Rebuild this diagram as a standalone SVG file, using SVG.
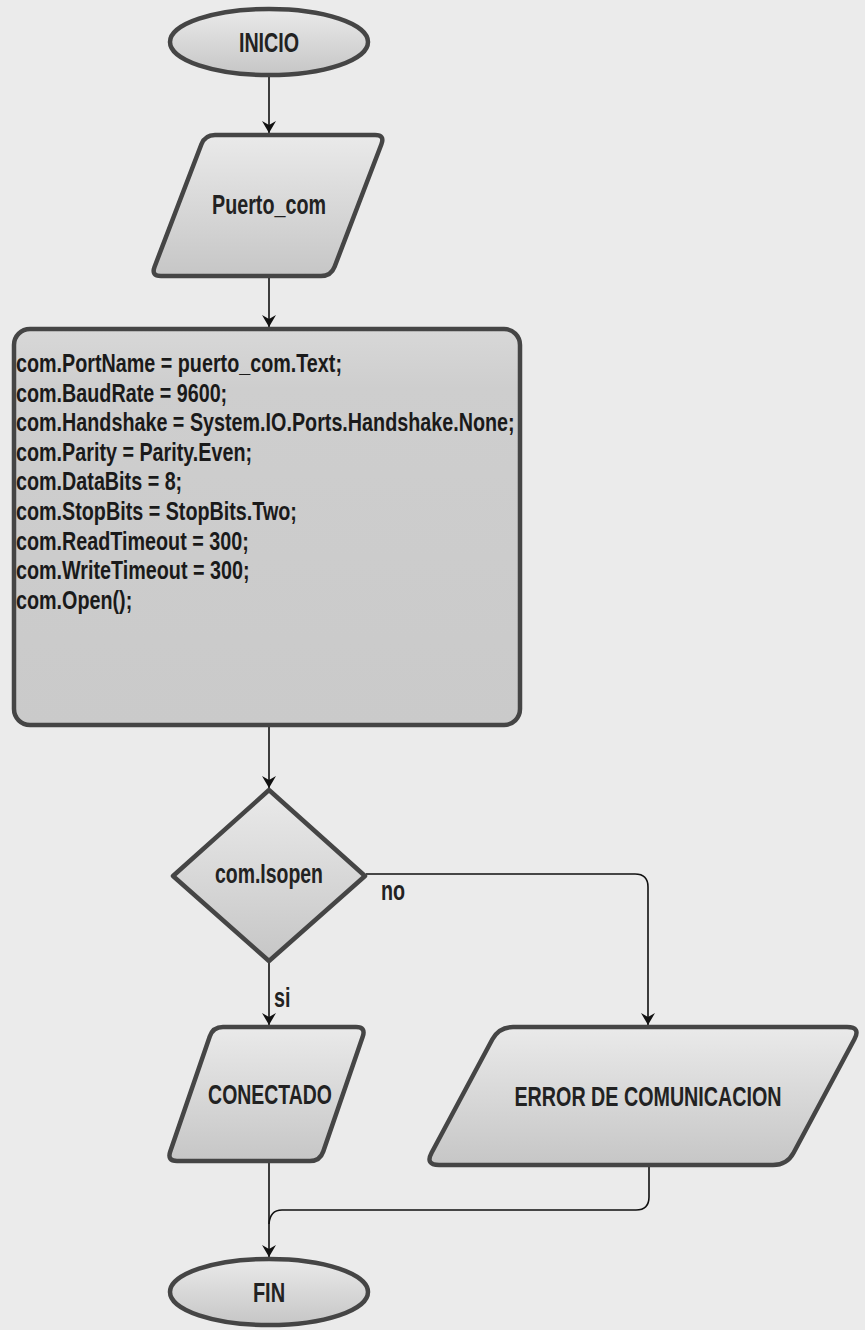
<svg xmlns="http://www.w3.org/2000/svg" width="865" height="1330" viewBox="0 0 865 1330">
  <defs>
    <linearGradient id="shade" x1="0" y1="0" x2="0" y2="1">
      <stop offset="0" stop-color="#eaeaea"/>
      <stop offset="1" stop-color="#c6c6c6"/>
    </linearGradient>
    <linearGradient id="shadeBox" x1="0" y1="0" x2="0" y2="1">
      <stop offset="0" stop-color="#d8d8d8"/>
      <stop offset="0.15" stop-color="#cecece"/>
      <stop offset="1" stop-color="#cacaca"/>
    </linearGradient>
    <marker id="arrow" viewBox="0 0 12 14" markerWidth="12" markerHeight="14" refX="12" refY="7" orient="auto" markerUnits="userSpaceOnUse">
      <path d="M0,0 L12,7 L0,14 L4,7 Z" fill="#111"/>
    </marker>
  </defs>
  <style>
    .node { fill: url(#shade); stroke: #454545; stroke-width: 4.5; stroke-linejoin: round; }
    .box { fill: url(#shadeBox); stroke: #454545; stroke-width: 4.5; }
    .edge { fill: none; stroke: #111; stroke-width: 1.6; }
    .lbl { font-family: "Liberation Sans", Arial, sans-serif; font-weight: bold; font-size: 27px; fill: #222; }
    .code { font-family: "Liberation Sans", Arial, sans-serif; font-weight: bold; font-size: 25px; fill: #1a1a1a; }
  </style>

  <rect x="0" y="0" width="865" height="1330" fill="#ebebeb"/>

  <!-- connectors -->
  <g id="connectors">
    <path class="edge" d="M269,77 L269,133" marker-end="url(#arrow)"/>
    <path class="edge" d="M269,277 L269,327" marker-end="url(#arrow)"/>
    <path class="edge" d="M269,727 L269,788" marker-end="url(#arrow)"/>
    <path class="edge" d="M269,962 L269,1025" marker-end="url(#arrow)"/>
    <path class="edge" d="M366,874 L635,874 Q648,874 648,887 L648,1025" marker-end="url(#arrow)"/>
    <path class="edge" d="M269,1162 L269,1257" marker-end="url(#arrow)"/>
    <path class="edge" d="M649,1167 L649,1197 Q649,1210 636,1210 L282,1210 Q270,1210 269,1224"/>
    <text class="lbl" transform="translate(381 900) scale(0.73 1)">no</text>
    <text class="lbl" transform="translate(274 1007) scale(0.73 1)">si</text>
  </g>

  <!-- start terminal -->
  <g id="inicio">
    <ellipse class="node" cx="269" cy="42" rx="99" ry="33"/>
    <text class="lbl" text-anchor="middle" transform="translate(269 52) scale(0.73 1)">INICIO</text>
  </g>

  <!-- port name input -->
  <g id="puerto_com">
    <path class="node" d="M215,135 L375,135 Q385,135 381.4,144.3 L334.6,266.7 Q331,276 321,276 L161,276 Q151,276 154.6,266.7 L201.4,144.3 Q205,135 215,135 Z"/>
    <text class="lbl" text-anchor="middle" transform="translate(269 214) scale(0.73 1)">Puerto_com</text>
  </g>

  <!-- serial port configuration -->
  <g id="config">
    <rect class="box" x="14" y="329" width="506" height="396" rx="16" ry="16"/>
    <g transform="translate(16 0) scale(0.79 1)">
      <text class="code" x="0" y="372">com.PortName = puerto_com.Text;</text>
      <text class="code" x="0" y="401.6">com.BaudRate = 9600;</text>
      <text class="code" x="0" y="431.2">com.Handshake = System.IO.Ports.Handshake.None;</text>
      <text class="code" x="0" y="460.8">com.Parity = Parity.Even;</text>
      <text class="code" x="0" y="490.4">com.DataBits = 8;</text>
      <text class="code" x="0" y="520">com.StopBits = StopBits.Two;</text>
      <text class="code" x="0" y="549.6">com.ReadTimeout = 300;</text>
      <text class="code" x="0" y="579.2">com.WriteTimeout = 300;</text>
      <text class="code" x="0" y="608.8">com.Open();</text>
    </g>
  </g>

  <!-- open check -->
  <g id="isopen">
    <path class="node" d="M269,790 L365,876 L269,961 L173,876 Z"/>
    <text class="lbl" text-anchor="middle" transform="translate(269 883) scale(0.72 1)">com.Isopen</text>
  </g>

  <!-- success output -->
  <g id="conectado">
    <path class="node" d="M223,1027 L356,1027 Q366,1027 362.75,1036.5 L323.25,1151.5 Q320,1161 310,1161 L177,1161 Q167,1161 170.25,1151.5 L209.75,1036.5 Q213,1027 223,1027 Z"/>
    <text class="lbl" text-anchor="middle" transform="translate(270 1104) scale(0.72 1)">CONECTADO</text>
  </g>

  <!-- failure output -->
  <g id="error">
    <path class="node" d="M513,1027 L847,1027 Q861,1027 854.4,1039.3 L793.6,1152.7 Q787,1165 773,1165 L439,1165 Q425,1165 431.6,1152.7 L492.4,1039.3 Q499,1027 513,1027 Z"/>
    <text class="lbl" text-anchor="middle" transform="translate(648 1106) scale(0.73 1)">ERROR DE COMUNICACION</text>
  </g>

  <!-- end terminal -->
  <g id="fin">
    <ellipse class="node" cx="269" cy="1292" rx="99" ry="33"/>
    <text class="lbl" text-anchor="middle" transform="translate(269 1302) scale(0.74 1)">FIN</text>
  </g>
</svg>
